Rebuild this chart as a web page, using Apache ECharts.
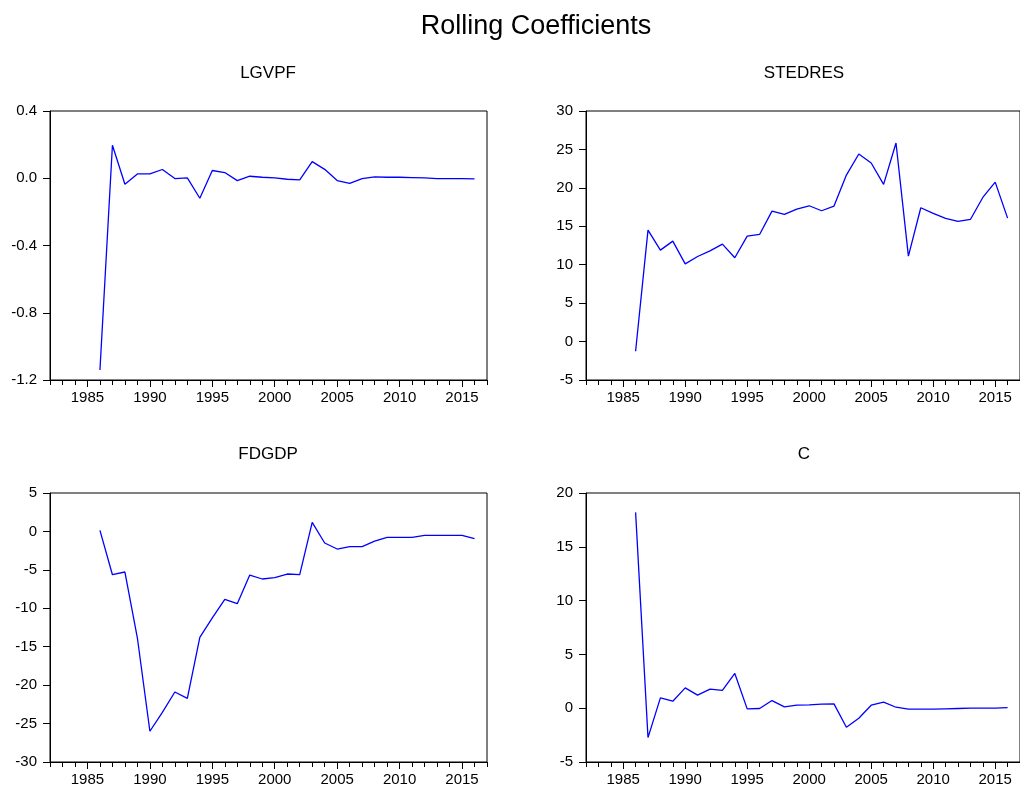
<!DOCTYPE html>
<html>
<head>
<meta charset="utf-8">
<title>Rolling Coefficients</title>
<script src="https://cdn.jsdelivr.net/npm/echarts@6/dist/echarts.min.js"></script>
<style>
  html, body { margin: 0; padding: 0; background: #fff; }
  #chart { width: 1020px; height: 787px; }
</style>
</head>
<body>
<div id="chart"></div>
<script>
// Sample years for every rolling window
const years = [1986, 1987, 1988, 1989, 1990, 1991, 1992, 1993, 1994, 1995,
               1996, 1997, 1998, 1999, 2000, 2001, 2002, 2003, 2004, 2005,
               2006, 2007, 2008, 2009, 2010, 2011, 2012, 2013, 2014, 2015, 2016];

// Rolling coefficient estimates, one array per regressor
const lgvpf = [-1.14, 0.196, -0.036, 0.026, 0.026, 0.052, -0.002, 0.002, -0.119, 0.046,
               0.034, -0.014, 0.012, 0.006, 0.002, -0.006, -0.010, 0.099, 0.053, -0.014,
               -0.030, -0.002, 0.008, 0.006, 0.006, 0.004, 0.002, -0.002, -0.002, -0.002, -0.004];

const stedres = [-1.26, 14.5, 11.9, 13.07, 10.11, 11.07, 11.81, 12.68, 10.9, 13.72,
                 13.94, 16.97, 16.54, 17.23, 17.67, 17.02, 17.63, 21.66, 24.4, 23.23,
                 20.45, 25.83, 11.11, 17.41, 16.67, 16.02, 15.63, 15.89, 18.75, 20.75, 16.06];

const fdgdp = [0.14, -5.63, -5.28, -13.87, -26.0, -23.54, -20.89, -21.72, -13.78, -11.26,
               -8.83, -9.4, -5.67, -6.19, -6.02, -5.54, -5.63, 1.18, -1.51, -2.29,
               -1.98, -1.98, -1.25, -0.77, -0.77, -0.77, -0.51, -0.51, -0.51, -0.51, -0.94];

const constTerm = [18.2, -2.73, 0.96, 0.65, 1.89, 1.21, 1.77, 1.65, 3.23, -0.06,
                   -0.03, 0.71, 0.12, 0.28, 0.31, 0.37, 0.40, -1.77, -0.93, 0.28,
                   0.56, 0.09, -0.09, -0.09, -0.09, -0.06, -0.03, 0.0, 0.0, 0.0, 0.06];

// Panel titles and y-axis ranges
const panelNames = ['LGVPF', 'STEDRES', 'FDGDP', 'C'];
const panelSeries = [lgvpf, stedres, fdgdp, constTerm];
const yMins = [-1.2, -5, -30, -5];
const yMaxs = [0.4, 30, 5, 20];
const yIntervals = [0.4, 5, 5, 5];
const yDecimals = [1, 0, 0, 0];

// Time axis: yearly minor ticks, labels every five years
const xMin = 1982, xMax = 2017;
const yearTicks = [];
for (let y = xMin; y <= xMax; y++) yearTicks.push(y);
const yearLabels = [1985, 1990, 1995, 2000, 2005, 2010, 2015];

const FONT = '"Liberation Sans", Arial, Helvetica, sans-serif';

const grids = [
  { left: 50,  top: 111, width: 437, height: 269 },
  { left: 586, top: 111, width: 435, height: 269 },
  { left: 50,  top: 493, width: 437, height: 269 },
  { left: 586, top: 493, width: 435, height: 269 }
];
// title anchors (the title box adds 5px padding on each side)
const titlePos = [
  { x: 263, y: 60 },
  { x: 799, y: 60 },
  { x: 263, y: 441 },
  { x: 799, y: 441 }
];

const option = {
  backgroundColor: '#ffffff',
  animation: false,
  title: [
    {
      text: 'Rolling Coefficients',
      left: 531, top: 8, textAlign: 'center',
      textStyle: { fontFamily: FONT, fontSize: 27, fontWeight: 'normal', color: '#000' }
    }
  ].concat(panelNames.map((name, i) => ({
    text: name,
    left: titlePos[i].x, top: titlePos[i].y, textAlign: 'center',
    textStyle: { fontFamily: FONT, fontSize: 17, fontWeight: 'normal', color: '#000' }
  }))),
  grid: grids.map(g => Object.assign({
    show: true, borderColor: '#000', borderWidth: 1, backgroundColor: '#fff',
    containLabel: false
  }, g)),
  xAxis: [],
  yAxis: [],
  series: []
};

grids.forEach((g, i) => {
  // main time axis with yearly ticks and labels
  option.xAxis.push({
    type: 'value', gridIndex: i, position: 'bottom',
    min: xMin, max: xMax, interval: 1,
    axisLine: { show: true, onZero: false, lineStyle: { color: '#000', width: 1 } },
    axisTick: { show: true, length: 5, inside: false, customValues: yearTicks,
                lineStyle: { color: '#000', width: 1 } },
    axisLabel: { show: true, customValues: yearLabels, margin: 10,
                 fontFamily: FONT, fontSize: 15, color: '#000',
                 formatter: v => String(v) },
    splitLine: { show: false }
  });
  // longer ticks at the labelled years
  option.xAxis.push({
    type: 'value', gridIndex: i, position: 'bottom', offset: 0,
    min: xMin, max: xMax, interval: 1,
    axisLine: { show: false, onZero: false },
    axisTick: { show: true, length: 7, inside: false, customValues: yearLabels,
                lineStyle: { color: '#000', width: 1 } },
    axisLabel: { show: false },
    splitLine: { show: false }
  });
  option.yAxis.push({
    type: 'value', gridIndex: i,
    min: yMins[i], max: yMaxs[i], interval: yIntervals[i],
    axisLine: { show: true, onZero: false, lineStyle: { color: '#000', width: 1 } },
    axisTick: { show: true, length: 7, inside: false, lineStyle: { color: '#000', width: 1 } },
    axisLabel: {
      show: true, margin: 13, fontFamily: FONT, fontSize: 15, color: '#000',
      formatter: v => {
        const r = Math.abs(v) < 1e-9 ? 0 : v;
        return r.toFixed(yDecimals[i]);
      }
    },
    splitLine: { show: false }
  });
  option.series.push({
    name: panelNames[i],
    type: 'line',
    xAxisIndex: i * 2,
    yAxisIndex: i,
    symbol: 'none',
    lineStyle: { color: '#0000ff', width: 1.3 },
    data: years.map((yr, k) => [yr, panelSeries[i][k]])
  });
});

const chart = echarts.init(document.getElementById('chart'), null, { renderer: 'canvas' });
chart.setOption(option);
</script>
</body>
</html>
